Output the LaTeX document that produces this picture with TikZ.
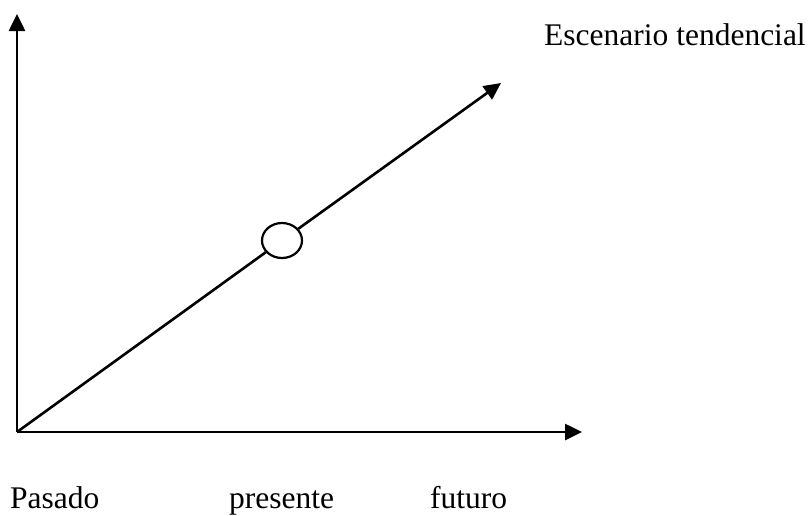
\documentclass[tikz,border=0pt]{standalone}
\usepackage{fontspec}
\setmainfont{Liberation Serif}
\usetikzlibrary{arrows.meta,shapes.geometric}
\begin{document}
\begin{tikzpicture}[x=1pt,y=-1pt,
  axis/.style={line width=2.6pt,-{Triangle[length=17pt,width=16pt]}},
  lbl/.style={anchor=base west,inner sep=0pt,font=\fontsize{31.5}{36}\selectfont}]
\useasboundingbox (0,0) rectangle (812,515);
\coordinate (O) at (17,432);
\coordinate (Y) at (17,14);
\coordinate (X) at (582,432);
\coordinate (D) at (501,83);
\node[ellipse,draw,line width=2.2pt,fill=white,minimum width=40pt,minimum height=35pt,inner sep=0pt] (c) at (282,240.5) {};
\draw[axis] (O) -- (Y);
\draw[axis] (O) -- (X);
\draw[line width=2.6pt] (O) -- (c);
\draw[axis] (c) -- (D);
\node[lbl] (esc) at (544,45) {Escenario tendencial};
\node[lbl] (pas) at (10,508) {Pasado};
\node[lbl] (pre) at (229,508) {presente};
\node[lbl] (fut) at (430,508) {futuro};
\end{tikzpicture}
\end{document}
